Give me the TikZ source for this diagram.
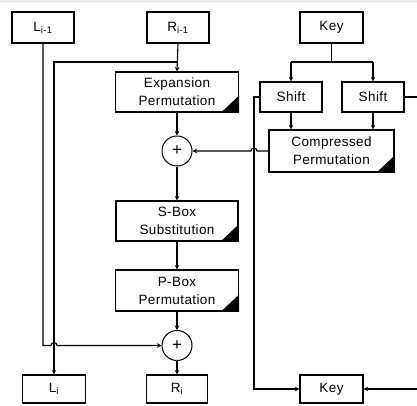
\documentclass[tikz,border=0pt]{standalone}
\usepackage{fontspec}
\setmainfont[LetterSpace=3]{Liberation Sans}
\usetikzlibrary{arrows.meta}
\begin{document}
\begin{tikzpicture}[x=1pt,y=-1pt,
  every node/.style={font=\fontsize{13.5}{18}\selectfont},
  box/.style={draw, line width=1.1pt, rectangle, inner sep=0pt, align=center},
  xor/.style={draw, line width=1pt, circle, minimum size=30pt, inner sep=0pt, font=\fontsize{17}{18}\selectfont},
  link/.style={line width=1.1pt},
  arr/.style={line width=1.1pt, -{Stealth[length=4.5pt,width=4.5pt]}},
  tri/.style={fill=black}
]
\clip (0,0) rectangle (417,405);
\fill[white] (0,0) rectangle (417,405);
\fill[gray!12] (0,0) rectangle (417,3);

% top row
\node[box, minimum width=62pt, minimum height=31pt] (Lprev) at (43,27.5) {L\textsubscript{i-1}};
\node[box, minimum width=62pt, minimum height=31pt] (Rprev) at (178,27.5) {R\textsubscript{i-1}};
\node[box, minimum width=63pt, minimum height=31pt] (KeyTop) at (331.5,27.5) {Key};

% main column
\node[box, minimum width=123pt, minimum height=40pt] (Exp) at (177,92) {Expansion\\Permutation};
\node[xor] (X1) at (177,151) {+};
\node[box, minimum width=122pt, minimum height=40pt] (SBox) at (177,221) {S-Box\\Substitution};
\node[box, minimum width=123pt, minimum height=41pt] (PBox) at (177,290.5) {P-Box\\Permutation};
\node[xor] (X2) at (177,345.5) {+};

% key side
\node[box, minimum width=62pt, minimum height=30pt] (Sh1) at (291,97) {Shift};
\node[box, minimum width=62pt, minimum height=30pt] (Sh2) at (373,97) {Shift};
\node[box, minimum width=125pt, minimum height=42pt] (Comp) at (331.5,151) {Compressed\\Permutation};

% bottom row
\node[box, minimum width=63pt, minimum height=28pt] (Li) at (54,389) {L\textsubscript{i}};
\node[box, minimum width=61pt, minimum height=28pt] (Ri) at (177,389) {R\textsubscript{i}};
\node[box, minimum width=63pt, minimum height=28pt] (KeyBot) at (331.5,389) {Key};

% corner triangles
\foreach \n in {Exp,SBox,PBox,Comp}{
  \fill[tri] (\n.south east) -- ++(-18,0) -- ++(18,-17) -- cycle;
}

% coordinates
\coordinate (rb) at (Rprev.south |- 0,62);
\coordinate (lb) at (Li.north |- 0,62);
\coordinate (ld) at (Lprev.south |- X2.west);
\coordinate (kb) at (KeyTop.south |- 0,62);
\coordinate (k1) at (Sh1.north |- 0,62);
\coordinate (k2) at (Sh2.north |- 0,62);
\coordinate (s1) at (254,97);
\coordinate (s1d) at (254,389);
\coordinate (s2) at (422,97);
\coordinate (s2d) at (422,389);

% R_{i-1} path
\draw[arr] (Rprev.south) -- (Exp.north);
\draw[arr] (rb) -- (lb) -- (Li.north);
% L_{i-1} path with hop
\draw[arr] (Lprev.south) -- (ld) -- ([xshift=-3pt]Li.north |- X2.west) arc[start angle=180, end angle=360, radius=3] -- (X2.west);

% main flow
\draw[arr] (Exp.south) -- (X1.north);
\draw[arr] (X1.south) -- (SBox.north);
\draw[arr] (SBox.south) -- (PBox.north);
\draw[arr] (PBox.south) -- (X2.north);
\draw[arr] (X2.south) -- (Ri.north);

% key schedule
\draw[link] (KeyTop.south) -- (kb);
\draw[link] (k1) -- (k2);
\draw[arr] (k1) -- (Sh1.north);
\draw[arr] (k2) -- (Sh2.north);
\draw[arr] (Sh1.south) -- (Sh1.south |- Comp.north);
\draw[arr] (Sh2.south) -- (Sh2.south |- Comp.north);
\draw[arr] (Comp.west) -- ([xshift=3pt]s1 |- Comp.west) arc[start angle=0, end angle=-180, radius=3] -- (X1.east);
\draw[arr] (Sh1.west) -- (s1) -- (s1d) -- (KeyBot.west);
\draw[arr] (Sh2.east) -- (s2) -- (s2d) -- (KeyBot.east);
\end{tikzpicture}
\end{document}
